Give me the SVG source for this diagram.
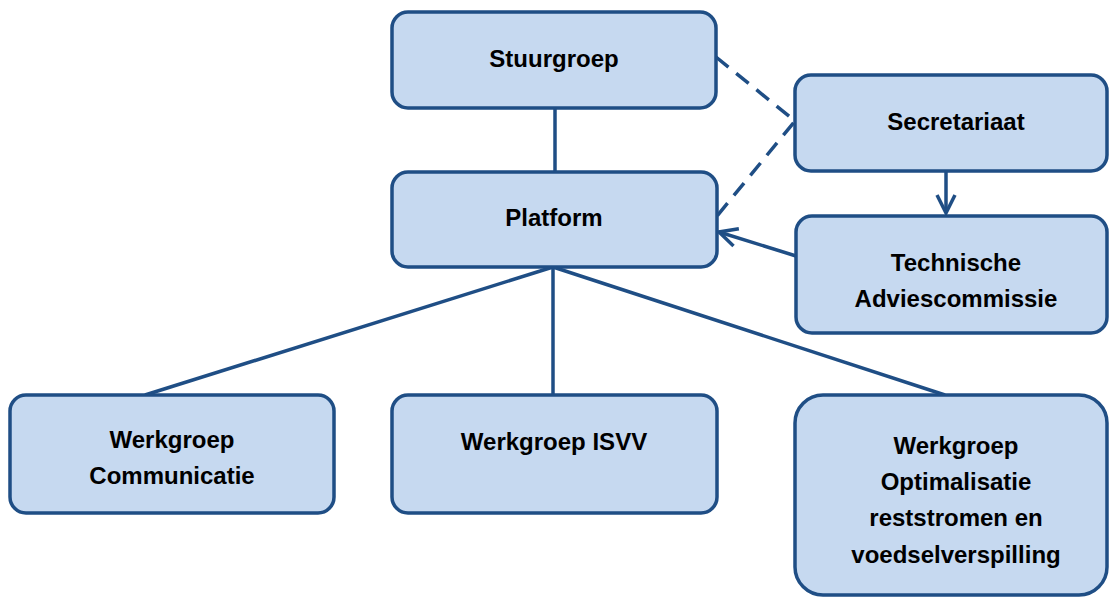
<svg xmlns="http://www.w3.org/2000/svg" width="1109" height="597" viewBox="0 0 1109 597">
<style>
.box{fill:#c6d9f0;stroke:#1f4e85;stroke-width:3.5}
.lbl{font-family:"Liberation Sans",Arial,sans-serif;font-weight:bold;font-size:24px;fill:#000;text-anchor:middle}
.con{fill:none;stroke:#1f4e85;stroke-width:3.5}
.dash{stroke-dasharray:16 10}
</style>
<defs>
<marker id="open" viewBox="0 0 24 24" refX="21" refY="12" markerWidth="24" markerHeight="24" markerUnits="userSpaceOnUse" orient="auto">
<path d="M3,3 L21,12 L3,21" fill="none" stroke="#1f4e85" stroke-width="3.5"/>
</marker>
</defs>
<g id="connectors">
<line class="con" x1="555" y1="108" x2="555" y2="172"/>
<line class="con" x1="553" y1="267" x2="145" y2="395"/>
<line class="con" x1="553" y1="267" x2="553" y2="395"/>
<line class="con" x1="553" y1="267" x2="945" y2="395"/>
<polyline class="con dash" points="716,57 795,121 717,216"/>
<line class="con" x1="946" y1="171" x2="946" y2="213" marker-end="url(#open)"/>
<line class="con" x1="796" y1="256" x2="719" y2="232" marker-end="url(#open)"/>
</g>
<g id="stuurgroep">
<rect class="box" x="392" y="12" width="324" height="96" rx="16"/>
<text class="lbl" x="554" y="67">Stuurgroep</text>
</g>
<g id="platform">
<rect class="box" x="392" y="172" width="325" height="95" rx="16"/>
<text class="lbl" x="554" y="226">Platform</text>
</g>
<g id="secretariaat">
<rect class="box" x="795" y="75" width="312" height="96" rx="16"/>
<text class="lbl" x="956" y="130">Secretariaat</text>
</g>
<g id="technische">
<rect class="box" x="796" y="216" width="311" height="117" rx="16"/>
<text class="lbl" x="956" y="271">Technische</text>
<text class="lbl" x="956" y="307">Adviescommissie</text>
</g>
<g id="communicatie">
<rect class="box" x="10" y="395" width="324" height="118" rx="16"/>
<text class="lbl" x="172" y="448">Werkgroep</text>
<text class="lbl" x="172" y="484">Communicatie</text>
</g>
<g id="isvv">
<rect class="box" x="392" y="395" width="325" height="118" rx="16"/>
<text class="lbl" x="554" y="450">Werkgroep ISVV</text>
</g>
<g id="optimalisatie">
<rect class="box" x="795" y="395" width="312" height="200" rx="28"/>
<text class="lbl" x="956" y="454">Werkgroep</text>
<text class="lbl" x="956" y="490">Optimalisatie</text>
<text class="lbl" x="956" y="526">reststromen en</text>
<text class="lbl" x="956" y="563">voedselverspilling</text>
</g>
</svg>
